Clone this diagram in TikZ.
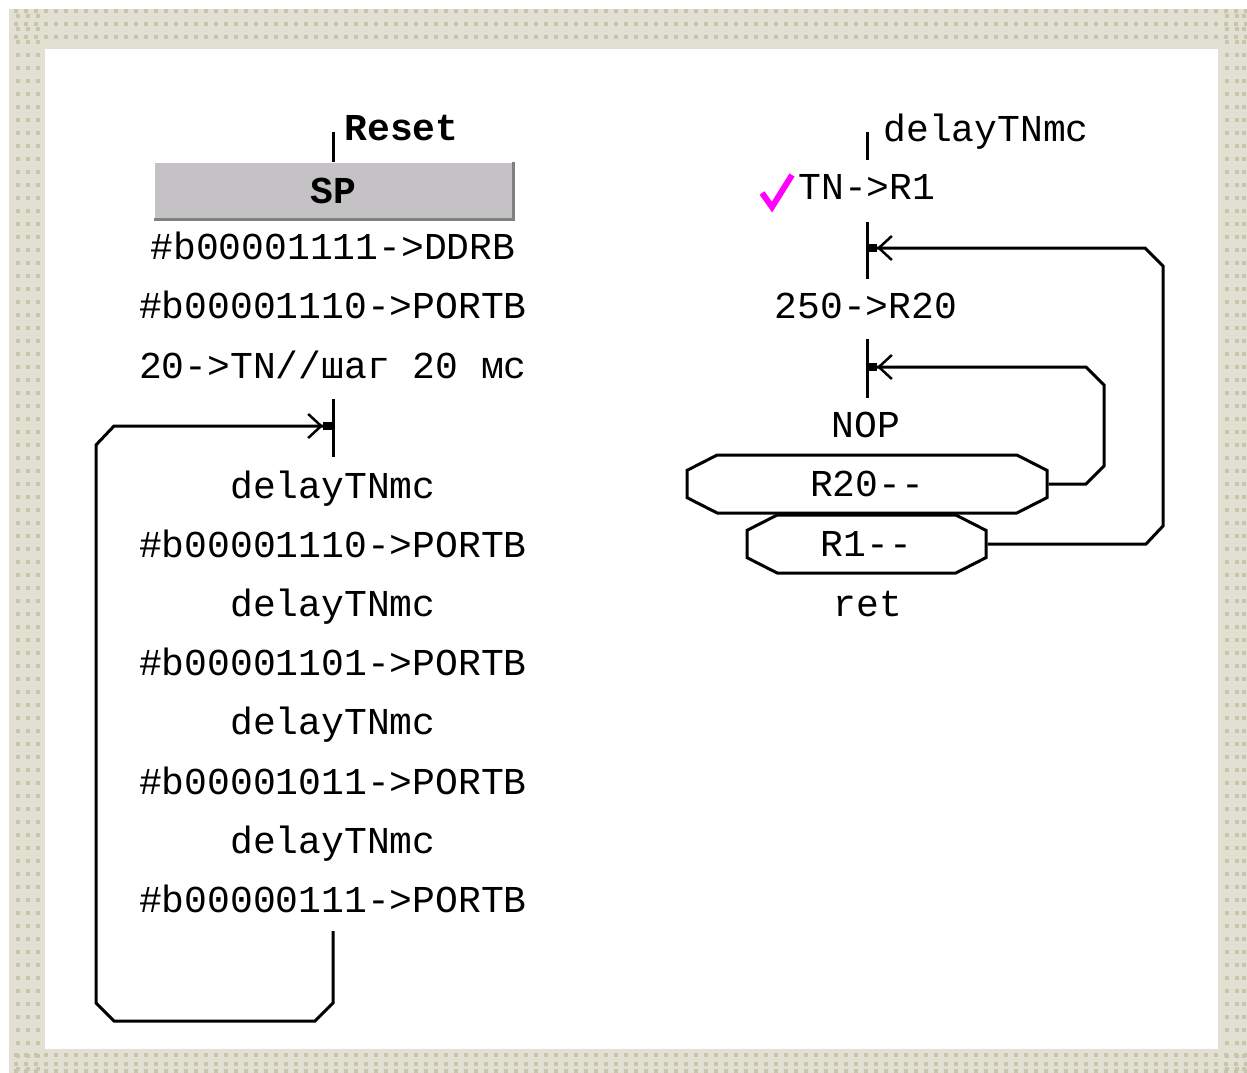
\documentclass[tikz,border=0pt]{standalone}
\usepackage{fontspec}
\setmonofont{Liberation Mono}
\usetikzlibrary{arrows.meta, shapes.misc}

\definecolor{framebeige}{RGB}{226,224,211}
\definecolor{dotbeige}{RGB}{200,198,170}
\definecolor{spgray}{RGB}{196,194,196}
\definecolor{spshade}{RGB}{128,128,128}
\definecolor{checkmag}{RGB}{255,0,255}

\begin{document}
\begin{tikzpicture}[x=1pt, y=-1pt, line width=3pt,
  every node/.style={font=\ttfamily\fontsize{38}{40}\selectfont, inner sep=0pt, text height=25pt, text depth=0pt},
  opbox/.style={chamfered rectangle, draw, chamfered rectangle angle=63, chamfered rectangle xsep=26pt, minimum height=58pt},
  joinarrow/.style={-{Straight Barb[length=13pt,width=24pt,line width=2.5pt,sep=0pt]Square[length=10pt,width=8pt]}},
  dotrow/.style={draw=dotbeige, line width=4pt, dash pattern=on 4pt off 6pt}]
\useasboundingbox (0,0) rectangle (1247,1073);
% frame
\fill[white] (0,0) rectangle (1247,1073);
\fill[framebeige] (9,9) rectangle (1247,1073);
\foreach \y in {11,24,37,1055,1064,1071}
  \draw[dotrow] (14,\y) -- (1247,\y);
\foreach \x in {18,28,38,1227,1237,1244}
  \draw[dotrow, dash pattern=on 4pt off 9pt] (\x,14) -- (\x,1073);
\fill[white] (45,49) rectangle (1218,1049);

% main routine
\node[anchor=west, font=\ttfamily\bfseries\fontsize{38}{40}\selectfont] (reset) at (343,128) {Reset};
\node[fill=spgray, minimum width=357pt, minimum height=55pt, font=\ttfamily\bfseries\fontsize{38}{40}\selectfont] (sp) at (333.5,190.5) {SP};
\draw[spshade] (sp.north east) -- (sp.south east) -- (sp.south west);
\coordinate (rtop) at (333,132);
\draw (rtop) -- (rtop |- sp.north);

\node (ddrb) at (333,247) {\#b00001111->DDRB};
\node (portA) at (333,306) {\#b00001110->PORTB};
\node (tnset) at (333,366) {20->TN//шаг 20 мс};
\coordinate (jtop) at (333,399);
\coordinate (jbot) at (333,457);
\coordinate (jin) at (333,426);
\draw (jtop) -- (jbot);
\node (delA) at (333,486) {delayTNmc};
\node (portB) at (333,545) {\#b00001110->PORTB};
\node (delB) at (333,604) {delayTNmc};
\node (portC) at (333,663) {\#b00001101->PORTB};
\node (delC) at (333,722) {delayTNmc};
\node (portD) at (333,782) {\#b00001011->PORTB};
\node (delD) at (333,841) {delayTNmc};
\node (portE) at (333,900) {\#b00000111->PORTB};
\coordinate (lend) at (333,931);
% loop back
\draw[joinarrow] (lend) -- (333,1003) -- (315,1021) -- (114,1021) -- (96,1003)
  -- (96,445) -- (114,426) -- (jin);

% delay subroutine
\node[anchor=west] (dname) at (882,129) {delayTNmc};
\coordinate (dtop) at (867,132);
\draw (dtop) -- ++(0,28);
\node[anchor=west] (tnr) at (797,187) {TN->R1};
\draw[checkmag, line width=6pt] (762,193) -- (772,207) -- (792,175);
\coordinate (kin) at (867,248);
\draw (867,222) -- (867,279);
\node (ldr) at (866,306) {250->R20};
\coordinate (min) at (867,367);
\draw (867,339) -- (867,398);
\node (nop) at (866,425) {NOP};
\node[opbox, minimum width=360pt] (dec20) at (867,484) {R20--};
\node[opbox, minimum width=239pt] (dec1) at (866.5,544) {R1--};
\node (ret) at (868,604) {ret};
% inner and outer loops
\draw[joinarrow] (dec20.east) -- (1086,484) -- (1104,466) -- (1104,385) -- (1086,367) -- (min);
\draw[joinarrow] (dec1.east) -- (1146,544) -- (1163,526) -- (1163,266) -- (1145,248) -- (kin);
\end{tikzpicture}
\end{document}
